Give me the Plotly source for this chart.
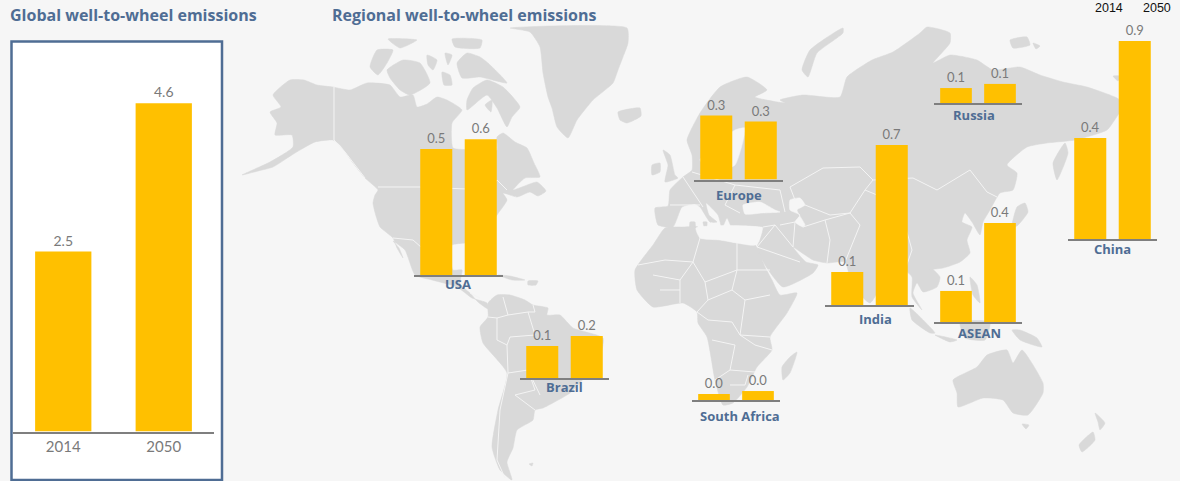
import plotly.graph_objects as go

# ---------- data ----------
years = ["2014", "2050"]
global_values = [2.5, 4.56]
usa = [0.548, 0.590]
europe = [0.278, 0.252]
russia = [0.065, 0.083]
india = [0.143, 0.696]
asean = [0.135, 0.430]
china = [0.439, 0.861]
brazil = [0.139, 0.183]
south_africa = [0.026, 0.039]
region_names = ["USA", "Europe", "Russia", "India", "ASEAN", "China", "Brazil", "South Africa"]
region_values = [usa, europe, russia, india, asean, china, brazil, south_africa]

# ---------- decorative backdrop map outlines ----------
north_america = [(242,175),(258,171),(273,167),(295,153),(315,142),(333,140),(340,145),(353,163),(365,178),(378,190),(375,195),(373,203),(376,216),(380,227),(393,238),(397,248),(403,258),(399,248),(393,241),(405,250),(415,275),(432,280),(457,287),(472,298),(487,303),(488,309),(478,302),(470,293),(460,284),(462,270),(453,270),(450,258),(452,245),(465,243),(480,240),(487,247),(490,252),(487,232),(497,215),(507,200),(503,193),(517,197),(530,192),(538,196),(546,191),(537,182),(522,187),(513,190),(525,178),(540,177),(534,163),(527,148),(515,142),(503,133),(497,137),(497,150),(480,155),(470,150),(453,148),(452,123),(462,110),(447,100),(437,97),(427,104),(417,107),(413,95),(400,97),(390,85),(367,83),(350,90),(333,87),(317,85),(304,80),(290,80),(273,95),(281,107),(270,112),(277,123),(275,135),(292,135),(293,147),(270,162)]
greenland = [(510,28),(627,28),(628,43),(623,57),(618,70),(613,83),(593,100),(577,120),(568,138),(557,127),(552,108),(548,97),(543,73),(540,47),(530,32)]
iceland = [(618,112),(640,108),(641,116),(627,123),(620,120)]
arctic_islands = [
    [(473,88),(487,80),(503,87),(520,107),(512,117),(507,127),(497,108),(487,95),(467,110),(467,100)],
    [(457,63),(467,53),(480,57),(488,63),(507,83),(480,77),(462,78)],
    [(387,70),(403,60),(420,63),(430,83),(410,95),(400,90),(390,78)],
    [(370,67),(377,50),(393,50),(387,63),(378,75)],
    [(388,39),(417,40),(400,48)],
    [(452,39),(482,40),(480,48),(455,47)],
    [(427,55),(437,60),(433,70),(428,65)],
    [(445,53),(452,55),(448,65)],
    [(442,72),(450,75),(452,85),(444,85)],
    [(485,105),(492,100),(491,112)],
    [(498,275),(510,276),(525,280),(512,280)],
    [(528,281),(538,281),(536,285),(528,285)],
]
south_america = [(488,303),(497,295),(510,295),(525,300),(533,305),(548,308),(547,315),(560,315),(573,328),(603,338),(600,357),(585,377),(570,393),(543,408),(535,410),(533,420),(517,430),(513,448),(507,462),(512,480),(500,470),(492,447),(498,410),(507,373),(483,343),(480,327),(488,317)]
africa = [(665,228),(683,227),(698,227),(700,238),(720,240),(737,243),(755,245),(765,267),(772,280),(780,295),(797,293),(787,313),(770,337),(772,350),(757,367),(747,387),(733,403),(723,405),(715,380),(707,337),(698,323),(697,312),(683,303),(653,307),(637,290),(635,270),(653,245)]
madagascar = [(797,352),(790,373),(783,380),(782,367),(790,357)]
eurasia = [(658,225),(655,208),(668,206),(670,190),(683,177),(692,170),(692,155),(687,140),(700,113),(720,87),(747,77),(767,90),(755,97),(785,103),(780,100),(803,95),(840,97),(847,77),(872,60),(893,52),(920,33),(927,27),(950,33),(950,43),(933,63),(950,55),(977,60),(993,70),(1020,67),(1040,75),(1063,82),(1087,87),(1117,98),(1125,105),(1118,115),(1107,130),(1075,140),(1047,143),(1027,147),(1007,165),(1017,173),(1013,190),(1000,193),(990,210),(983,222),(980,235),(972,222),(965,213),(962,222),(972,227),(967,240),(970,253),(960,262),(943,268),(920,270),(927,265),(940,277),(937,287),(923,292),(917,283),(913,293),(922,310),(912,297),(912,277),(905,270),(892,262),(885,278),(870,303),(852,285),(845,262),(827,263),(813,260),(793,247),(806,262),(818,265),(813,273),(783,287),(765,265),(757,247),(760,240),(763,227),(740,227),(733,230),(727,218),(722,228),(718,215),(706,203),(709,215),(717,222),(710,222),(700,207),(695,204),(682,207),(673,227)]
other_islands = [
    [(663,150),(670,155),(675,175),(678,178),(665,182),(668,165)],
    [(652,165),(660,163),(660,172),(652,175)],
    [(843,28),(810,50),(802,70),(808,77),(817,53),(843,33)],
    [(1010,40),(1027,37),(1030,45),(1013,48)],
    [(1033,43),(1040,46),(1036,49)],
    [(1053,163),(1065,143),(1068,153),(1057,180)],
    [(1113,76),(1121,76),(1118,81)],
    [(1017,207),(1025,203),(1028,212),(1017,226),(1012,227)],
    [(910,308),(935,333),(930,333),(912,320)],
    [(935,335),(957,340),(950,342)],
    [(970,277),(977,285),(980,303),(973,295)],
    [(960,322),(990,322),(985,340),(965,338)],
    [(1020,330),(1037,338),(1042,347),(1020,340),(1012,330)],
    [(690,222),(695,222),(695,230),(690,230)],
    [(703,222),(707,222),(706,232)],
    [(953,380),(977,367),(987,355),(1007,350),(1013,363),(1022,350),(1043,383),(1043,393),(1028,415),(1013,413),(1003,400),(983,398),(958,407),(957,393)],
    [(1022,424),(1029,425),(1026,429)],
    [(1095,413),(1105,423),(1100,430),(1098,422)],
    [(1093,432),(1095,440),(1082,452),(1079,445)],
    [(529,464),(533,463),(532,466)],
]
inland_seas = [
    [(743,205),(760,202),(775,210),(780,212),(762,213),(745,214)],
    [(790,200),(800,198),(805,205),(797,210),(805,225),(803,227),(795,222),(800,215),(790,210)],
    [(700,160),(735,130),(745,128),(735,165),(715,172)],
    [(696,228),(760,228),(755,245),(737,243),(720,240),(700,238)],
]
borders = [
    [(334,87),(334,140),(345,152),(365,178)],
    [(378,187),(420,187),(490,190),(497,180),(507,190)],
    [(393,238),(413,240),(430,255)],
    [(470,293),(480,298)],
    [(790,187),(823,168),(860,167),(873,180),(913,178),(937,190),(970,170),(987,192),(997,197)],
    [(873,180),(865,190),(877,195),(883,212),(905,225),(912,250),(905,270)],
    [(790,187),(795,200)],[(805,205),(830,215),(850,213),(865,190)],
    [(803,227),(825,220),(850,213),(860,225),(845,262)],
    [(780,225),(795,222),(793,247)],[(825,220),(830,240),(827,263)],
    [(670,205),(700,205)],[(683,177),(695,195),(703,207)],[(692,172),(735,185)],[(735,185),(725,205),(740,213)],[(735,185),(780,190),(785,212)],
    [(763,227),(775,225),(793,247)],[(775,225),(757,247)],[(757,247),(800,262)],
    [(737,243),(737,270),(770,270)],[(700,238),(693,262),(665,260),(638,265)],[(693,262),(705,282),(737,270)],
    [(705,282),(708,300),(697,312)],[(737,270),(732,290),(708,300)],[(732,290),(745,300),(770,295)],[(745,300),(740,335),(770,337)],
    [(708,320),(732,322),(740,335),(755,345),(772,350)],[(712,340),(735,345),(730,370),(715,380)],[(730,370),(755,372)],[(730,385),(745,385),(748,375)],
    [(653,275),(680,280),(693,262)],[(680,280),(680,303)],[(660,290),(680,290)],[(697,312),(708,320)],
    [(503,297),(508,315),(528,312),(535,312),(533,305)],[(508,315),(497,318),(488,317)],[(497,318),(497,340),(507,345),(508,373),(528,370),(540,395)],
    [(508,373),(500,410),(497,460),(505,478)],[(528,370),(535,390),(515,395),(535,410)],[(528,312),(535,335),(510,337),(507,345)],
]

# ---------- styles ----------
BG = "#f6f6f6"
LAND = "#d9d9d9"
BAR = "#ffc000"
BLUE = "#4f6d94"
GREY = "#7f7f7f"
W, H = 1180, 481
REGION_SCALE = 230.0
GLOBAL_SCALE = 72.0
region_boxes = {  # baseline left, right, baseline y, name centre x, name centre y
    "USA": (414, 503, 275, 458, 284),
    "Europe": (694, 783, 179.5, 739, 195),
    "Russia": (934, 1022, 103, 974, 115),
    "India": (825, 914, 305, 875, 319),
    "ASEAN": (934, 1022, 322, 979, 333),
    "China": (1068, 1157, 239, 1112, 249),
    "Brazil": (520, 609, 378, 564, 387),
    "South Africa": (692, 780, 400, 740, 416),
}

def rings(polys):
    xs, ys = [], []
    for p in polys:
        closed = p + [p[0]]
        xs += [c[0] for c in closed] + [None]
        ys += [c[1] for c in closed] + [None]
    return xs, ys

def lines(polys):
    xs, ys = [], []
    for p in polys:
        xs += [c[0] for c in p] + [None]
        ys += [c[1] for c in p] + [None]
    return xs, ys

fig = go.Figure()
land = [north_america, greenland, iceland, south_america, africa, madagascar, eurasia] + arctic_islands + other_islands
xs, ys = rings(land)
fig.add_trace(go.Scatter(x=xs, y=ys, mode="lines", fill="toself", fillcolor=LAND,
                         line=dict(color=LAND, width=0.5, shape="spline", smoothing=0.5),
                         hoverinfo="skip", showlegend=False))
xs, ys = rings(inland_seas)
fig.add_trace(go.Scatter(x=xs, y=ys, mode="lines", fill="toself", fillcolor=BG,
                         line=dict(color=BG, width=0.5, shape="spline", smoothing=0.5),
                         hoverinfo="skip", showlegend=False))
xs, ys = lines(borders)
fig.add_trace(go.Scatter(x=xs, y=ys, mode="lines", line=dict(color="#f4f4f4", width=1),
                         hoverinfo="skip", showlegend=False))

layout = dict(
    xaxis=dict(domain=[0, 1], range=[0, W], visible=False, fixedrange=True),
    yaxis=dict(domain=[0, 1], range=[H, 0], visible=False, fixedrange=True),
)

def add_bars(idx, values, x0, x1, base, scale, barw, height, fsize, ticks):
    ax = str(idx)
    height = min(height, base - 1)
    fig.add_trace(go.Bar(
        x=years, y=values, xaxis="x" + ax, yaxis="y" + ax, width=barw,
        marker=dict(color=BAR, line=dict(width=0)),
        texttemplate="%{y:.1f}", textposition="outside", cliponaxis=False,
        textfont=dict(family="Lato", size=fsize, color="#7a7a7a"),
        hoverinfo="skip", showlegend=False))
    layout["xaxis" + ax] = dict(
        domain=[x0 / W, x1 / W], anchor="y" + ax, type="category", range=[-0.5, 1.5],
        showline=True, linecolor=GREY, linewidth=1.5, showgrid=False, zeroline=False,
        showticklabels=ticks, ticks="outside" if ticks else "", ticklen=1,
        tickcolor="rgba(0,0,0,0)", tickfont=dict(family="Lato", size=15, color="#7a7a7a"),
        fixedrange=True)
    layout["yaxis" + ax] = dict(
        domain=[1 - base / H, 1 - (base - height) / H], anchor="x" + ax,
        range=[0, height / scale], visible=False, fixedrange=True)

add_bars(2, global_values, 13, 214, 431.5, GLOBAL_SCALE, 0.56, 380, 14, True)
annotations = []
for i, (name, vals) in enumerate(zip(region_names, region_values)):
    x0, x1, base, nx, ny = region_boxes[name]
    add_bars(i + 3, vals, x0, x1, base, REGION_SCALE, 0.72, 215, 13, False)
    annotations.append(dict(x=nx, y=ny, xref="x", yref="y", text="<b>%s</b>" % name, showarrow=False,
                            font=dict(family="Open Sans", size=13, color=BLUE)))

annotations += [
    dict(x=8, y=15, xref="x", yref="y", xanchor="left", text="<b>Global well-to-wheel emissions</b>",
         showarrow=False, font=dict(family="Open Sans", size=16, color=BLUE)),
    dict(x=330, y=15, xref="x", yref="y", xanchor="left", text="<b>Regional well-to-wheel emissions</b>",
         showarrow=False, font=dict(family="Open Sans", size=16, color=BLUE)),
    dict(x=1109, y=0, xref="x", yref="y", yanchor="top", borderpad=0, text=years[0], showarrow=False,
         font=dict(family="Liberation Sans", size=12.5, color="#111111")),
    dict(x=1157, y=0, xref="x", yref="y", yanchor="top", borderpad=0, text=years[1], showarrow=False,
         font=dict(family="Liberation Sans", size=12.5, color="#111111")),
]

fig.update_layout(
    width=W, height=H, margin=dict(l=0, r=0, t=0, b=0, pad=0),
    paper_bgcolor=BG, plot_bgcolor="rgba(0,0,0,0)", showlegend=False, barmode="overlay",
    annotations=annotations, hovermode=False,
    shapes=[dict(type="rect", xref="paper", yref="paper", x0=11.5 / W, x1=222 / W,
                 y0=1 - 480 / H, y1=1 - 41.5 / H, fillcolor="#ffffff",
                 line=dict(color=BLUE, width=2.5), layer="below")],
    **layout)

fig.write_html("out.html", config={"displayModeBar": False},
               post_script="document.body.style.margin='0';document.body.style.background='%s';document.body.style.overflow='hidden';" % BG)
